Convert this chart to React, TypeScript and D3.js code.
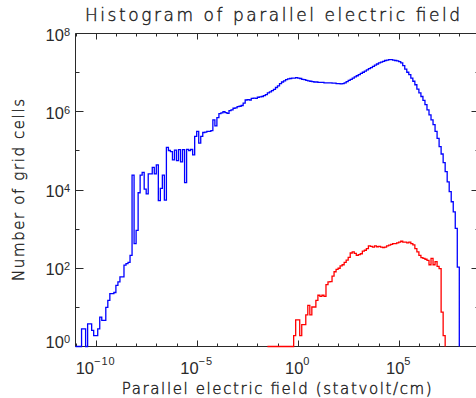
import React from "react";
import * as d3 from "d3";

const TITLE = "Histogram of parallel electric field";
const X_TITLE = "Parallel electric field (statvolt/cm)";
const Y_TITLE = "Number of grid cells";

const X_DOMAIN_EXP = [-11, 9];
const Y_DOMAIN_EXP = [0, 8];
const X_LABEL_EXP = [-10, -5, 0, 5];
const Y_LABEL_EXP = [0, 2, 4, 6, 8];

// histogram bins: width in decades of the field, log10(count) per bin (null = empty bin)
const BIN_WIDTH_DEX = 0.1;
const BLUE_START_EXP = -11.0;
const blueLogCounts: (number | null)[] = [
  null, null, null, 0.45, 0.45, null, 0.58, 0.58, 0.41, 0.28,
  0.28, 0.45, 0.75, 0.67, 0.67, 1.0, 1.18, 1.35, 1.35, 1.38,
  1.56, 1.65, 1.78, 1.78, 2.08, 2.12, 2.15, 2.33, 4.38, 2.63,
  2.97, 3.93, 4.38, 4.45, 4.02, 3.9, 4.41, 4.41, 4.58, 4.41,
  4.64, 3.73, 4.04, 4.38, 3.74, 5.09, 5.01, 4.98, 4.77, 5.02,
  4.75, 5.03, 4.72, 5.03, 4.19, 5.04, 5.01, 5.04, 4.9, 5.37,
  5.5, 5.2, 5.37, 5.47, 5.48, 5.5, 5.5, 5.52, 5.79, 5.64,
  5.85, 5.95, 5.97, 6.0, 5.98, 5.96, 6.03, 6.05, 6.09, 6.1,
  6.13, 6.14, 6.16, 6.22, 6.3, 6.31, 6.3, 6.34, 6.35, 6.34,
  6.37, 6.38, 6.39, 6.41, 6.44, 6.48, 6.51, 6.54, 6.57, 6.62,
  6.66, 6.72, 6.76, 6.79, 6.82, 6.84, 6.85, 6.86, 6.86, 6.87,
  6.86, 6.85, 6.83, 6.82, 6.8, 6.79, 6.78, 6.77, 6.76, 6.76,
  6.75, 6.75, 6.75, 6.74, 6.74, 6.74, 6.74, 6.73, 6.73, 6.72,
  6.72, 6.71, 6.72, 6.74, 6.77, 6.8, 6.83, 6.86, 6.89, 6.92,
  6.95, 6.98, 7.01, 7.04, 7.07, 7.1, 7.13, 7.16, 7.19, 7.22,
  7.25, 7.27, 7.29, 7.31, 7.32, 7.33, 7.33, 7.32, 7.31, 7.3,
  7.28, 7.25, 7.18, 7.09, 7.01, 6.95, 6.86, 6.78, 6.69, 6.58,
  6.48, 6.39, 6.29, 6.18, 6.05, 5.92, 5.79, 5.67, 5.5, 5.32,
  5.11, 4.92, 4.7, 4.47, 4.21, 3.96, 3.7, 3.44, 3.02, 2.03,
];

const RED_START_EXP = -1.5;
const redLogCounts: (number | null)[] = [
  null, null, null, null, null, null, null, null, null, null,
  null, null, null, 0.28, 0.68, 0.68, 0.28, 0.56, 0.56, 0.81,
  1.05, 0.81, 1.01, 1.01, 1.18, 1.31, 1.28, 1.31, 1.28, 1.58,
  1.65, 1.66, 1.8, 1.91, 1.97, 2.0, 2.06, 2.09, 2.15, 2.21,
  2.28, 2.39, 2.42, 2.38, 2.33, 2.35, 2.37, 2.44, 2.46, 2.5,
  2.57, 2.56, 2.54, 2.57, 2.55, 2.56, 2.54, 2.53, 2.54, 2.57,
  2.59, 2.61, 2.63, 2.63, 2.65, 2.67, 2.69, 2.67, 2.67, 2.65,
  2.67, 2.63, 2.6, 2.5, 2.42, 2.33, 2.27, 2.25, 2.23, 2.2,
  2.09, 2.25, 2.09, 2.17, 2.05, 1.99, 0.88, 0.28,
];

const W = 476;
const H = 398;
const LEFT = 75.5;
const RIGHT = 479.5;
const TOP = 33.5;
const BOTTOM = 346.5;

const WORD_FONT = "'DejaVu Sans', 'Liberation Sans', sans-serif";
const DIGIT_FONT = "'Liberation Sans', Arial, sans-serif";
const INK = "#2a2a2a";

const x = d3
  .scaleLog()
  .domain([10 ** X_DOMAIN_EXP[0], 10 ** X_DOMAIN_EXP[1]])
  .range([LEFT, RIGHT]);
const y = d3
  .scaleLog()
  .domain([10 ** Y_DOMAIN_EXP[0], 10 ** Y_DOMAIN_EXP[1]])
  .range([BOTTOM, TOP]);

function stepPath(start: number, logs: (number | null)[]) {
  const pts: [number, number][] = logs.map((v, i) => [
    10 ** (start + i * BIN_WIDTH_DEX),
    v === null ? 1 : 10 ** v,
  ]);
  const endEdge = 10 ** (start + logs.length * BIN_WIDTH_DEX);
  const last = logs[logs.length - 1];
  pts.push([endEdge, last === null ? 1 : 10 ** last]);
  pts.push([endEdge, 1]);
  const line = d3
    .line<[number, number]>()
    .x((d) => x(d[0]))
    .y((d) => y(d[1]))
    .curve(d3.curveStepAfter);
  return line(pts) || "";
}

const wordStyle = {
  fontFamily: WORD_FONT,
  fontWeight: 300,
  fill: "#222",
  stroke: "#222",
  strokeWidth: 0.4,
} as const;

export default function App() {
  const xDecades = d3.range(X_DOMAIN_EXP[0], X_DOMAIN_EXP[1] + 1);
  const yDecades = d3.range(Y_DOMAIN_EXP[0], Y_DOMAIN_EXP[1] + 1);
  const bluePath = stepPath(BLUE_START_EXP, blueLogCounts);
  const redPath = stepPath(RED_START_EXP, redLogCounts);

  return (
    <svg
      width={W}
      height={H}
      viewBox={`0 0 ${W} ${H}`}
      style={{ position: "absolute", left: 0, top: 0, background: "#fff" }}
    >
      <rect x={0} y={0} width={W} height={H} fill="#fff" />
      {/* title */}
      <text
        x={272.5}
        y={21}
        textAnchor="middle"
        fontSize={17}
        textLength={375}
        lengthAdjust="spacing"
        style={wordStyle}
      >
        {TITLE}
      </text>

      {/* axes frame */}
      <g stroke={INK} strokeWidth={1} fill="none">
        <line x1={LEFT} y1={TOP} x2={RIGHT} y2={TOP} />
        <line x1={LEFT} y1={BOTTOM} x2={RIGHT} y2={BOTTOM} />
        <line x1={LEFT} y1={TOP} x2={LEFT} y2={BOTTOM} />
        <line x1={RIGHT} y1={TOP} x2={RIGHT} y2={BOTTOM} />
        {xDecades.map((k) => {
          const px = Math.round(x(10 ** k)) + 0.5;
          const len = k % 5 === 0 ? 6 : 3;
          return (
            <g key={"xt" + k}>
              <line x1={px} y1={BOTTOM} x2={px} y2={BOTTOM - len} />
              <line x1={px} y1={TOP} x2={px} y2={TOP + len} />
            </g>
          );
        })}
        {yDecades.map((k) => {
          const py = Math.round(y(10 ** k) - 0.5) + 0.5;
          const len = k % 2 === 0 ? 8 : 4;
          return (
            <g key={"yt" + k}>
              <line x1={LEFT} y1={py} x2={LEFT + len} y2={py} />
              <line x1={RIGHT} y1={py} x2={RIGHT - len} y2={py} />
            </g>
          );
        })}
      </g>

      {/* x tick labels */}
      {X_LABEL_EXP.map((k) => (
        <text
          key={"xl" + k}
          x={x(10 ** k)}
          y={374}
          textAnchor="middle"
          fontFamily={DIGIT_FONT}
          fontSize={16.5}
          fill={INK}
        >
          <tspan>10</tspan>
          <tspan fontSize={11} dy={-9} letterSpacing={1}>
            {k < 0 ? "\u2212" + Math.abs(k) : String(k)}
          </tspan>
        </text>
      ))}

      {/* y tick labels */}
      {Y_LABEL_EXP.map((k) => (
        <text
          key={"yl" + k}
          x={70}
          y={y(10 ** k) + (k === 0 ? 1 : 7)}
          textAnchor="end"
          fontFamily={DIGIT_FONT}
          fontSize={16.5}
          fill={INK}
        >
          <tspan>10</tspan>
          <tspan fontSize={11} dy={-5}>
            {String(k)}
          </tspan>
        </text>
      ))}

      {/* axis titles */}
      <text
        x={276.7}
        y={394}
        textAnchor="middle"
        fontSize={15}
        textLength={310}
        lengthAdjust="spacing"
        style={wordStyle}
      >
        {X_TITLE}
      </text>
      <text
        transform={`translate(24,190) rotate(-90)`}
        textAnchor="middle"
        fontSize={15}
        textLength={182}
        lengthAdjust="spacing"
        style={wordStyle}
      >
        {Y_TITLE}
      </text>

      {/* histograms */}
      <path d={bluePath} fill="none" stroke="#0000ff" strokeWidth={1.3} />
      <path d={redPath} fill="none" stroke="#ff0000" strokeWidth={1.3} />
    </svg>
  );
}
